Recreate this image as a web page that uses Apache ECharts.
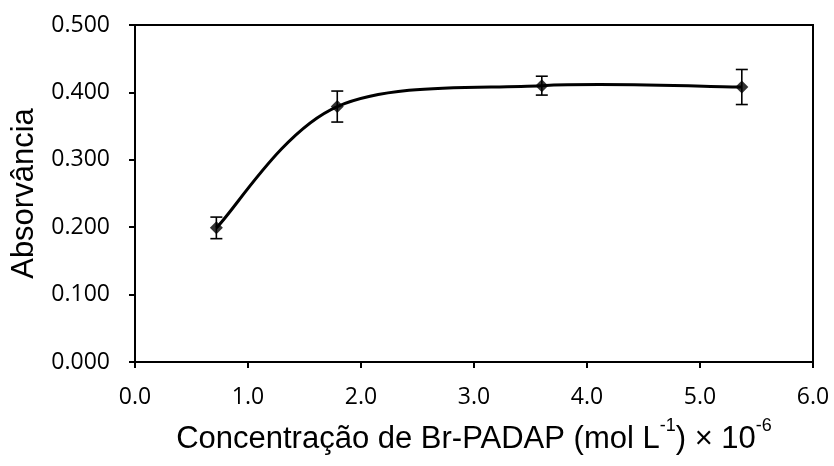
<!DOCTYPE html>
<html>
<head>
<meta charset="utf-8">
<script src="https://cdn.jsdelivr.net/npm/echarts@6/dist/echarts.min.js"></script>
<style>html,body{margin:0;padding:0;background:#fff}#c{width:834px;height:466px}</style>
</head>
<body>
<div id="c"></div>
<script>
var concentrations = [0.72, 1.79, 3.60, 5.37];
var absorbance = [0.199, 0.379, 0.410, 0.408];
var errors = [0.016, 0.023, 0.014, 0.026];
var xTicks = [0, 1, 2, 3, 4, 5, 6];
var yTicks = [0, 0.1, 0.2, 0.3, 0.4, 0.5];

var points = concentrations.map(function (x, i) { return [x, absorbance[i]]; });
var errData = concentrations.map(function (x, i) { return [x, absorbance[i] - errors[i], absorbance[i] + errors[i]]; });

var chart = echarts.init(document.getElementById('c'));
chart.setOption({
  animation: false,
  grid: { left: 135, right: 21, top: 25, bottom: 104, show: true, borderColor: '#000', borderWidth: 2 },
  xAxis: {
    type: 'value', min: xTicks[0], max: xTicks[xTicks.length - 1], interval: 1,
    name: '{n|Concentração de Br-PADAP (mol L}{s|-1}{n|) × 10}{s|-6}',
    nameLocation: 'middle', nameGap: 55,
    nameTextStyle: {
      rich: {
        n: { fontFamily: 'Liberation Sans', fontSize: 31, color: '#000', verticalAlign: 'bottom', lineHeight: 38 },
        s: { fontFamily: 'Liberation Sans', fontSize: 18, color: '#000', verticalAlign: 'top', lineHeight: 38, padding: [0, 0, 8, 0] }
      }
    },
    axisLine: { lineStyle: { color: '#000', width: 2 } },
    axisTick: { show: true, length: 6, lineStyle: { color: '#000', width: 2 } },
    axisLabel: { fontFamily: 'Open Sans', fontSize: 23, color: '#000', margin: 24, formatter: function (v) { return v.toFixed(1); } },
    splitLine: { show: false }
  },
  yAxis: {
    type: 'value', min: yTicks[0], max: yTicks[yTicks.length - 1], interval: 0.1,
    name: 'Absorvância', nameLocation: 'middle', nameGap: 95,
    nameTextStyle: { fontFamily: 'Liberation Sans', fontSize: 31, color: '#000' },
    axisLine: { lineStyle: { color: '#000', width: 2 } },
    axisTick: { show: true, length: 6, lineStyle: { color: '#000', width: 2 } },
    axisLabel: { fontFamily: 'Open Sans', fontSize: 23, color: '#000', margin: 25, formatter: function (v) { return v.toFixed(3); } },
    splitLine: { show: false }
  },
  series: [
    {
      // smoothed curve (Catmull-Rom style bezier segments between the measured points)
      type: 'custom', data: points, z: 2, silent: true,
      renderItem: function (params, api) {
        var i = params.dataIndex;
        var n = points.length;
        if (i >= n - 1) return null;
        var P = function (k) {
          k = Math.max(0, Math.min(n - 1, k));
          return api.coord(points[k]);
        };
        var p0 = P(i - 1), p1 = P(i), p2 = P(i + 1), p3 = P(i + 2);
        var t = 1 / 6;
        return {
          type: 'bezierCurve',
          shape: {
            x1: p1[0], y1: p1[1],
            cpx1: p1[0] + (p2[0] - p0[0]) * t, cpy1: p1[1] + (p2[1] - p0[1]) * t,
            cpx2: p2[0] - (p3[0] - p1[0]) * t, cpy2: p2[1] - (p3[1] - p1[1]) * t,
            x2: p2[0], y2: p2[1]
          },
          style: { stroke: '#000', lineWidth: 3, fill: null }
        };
      }
    },
    {
      type: 'custom', data: errData, z: 3, silent: true,
      renderItem: function (params, api) {
        var x = api.value(0);
        var lo = api.coord([x, api.value(1)]);
        var hi = api.coord([x, api.value(2)]);
        var w = 6;
        var st = { stroke: '#000', lineWidth: 1.6 };
        return {
          type: 'group',
          children: [
            { type: 'line', shape: { x1: lo[0], y1: lo[1], x2: hi[0], y2: hi[1] }, style: st },
            { type: 'line', shape: { x1: lo[0] - w, y1: lo[1], x2: lo[0] + w, y2: lo[1] }, style: st },
            { type: 'line', shape: { x1: hi[0] - w, y1: hi[1], x2: hi[0] + w, y2: hi[1] }, style: st }
          ]
        };
      }
    },
    {
      type: 'scatter', data: points, z: 4,
      symbol: 'diamond', symbolSize: 13,
      itemStyle: { color: '#000' }
    }
  ]
});
</script>
</body>
</html>
